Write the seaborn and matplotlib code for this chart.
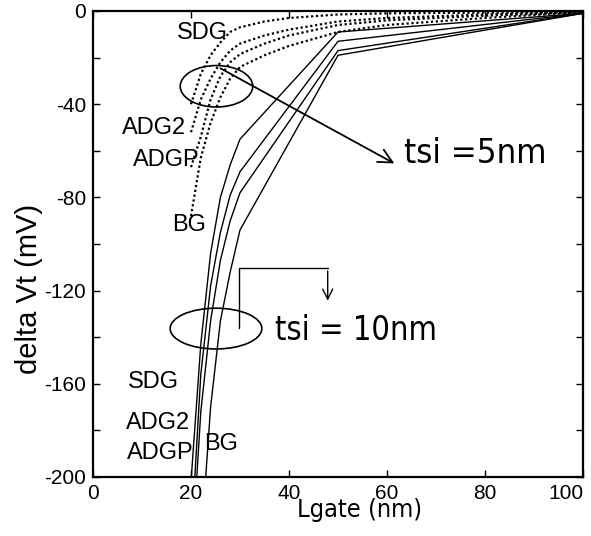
import pandas as pd
import seaborn as sns
import matplotlib.pyplot as plt
from matplotlib import font_manager
from matplotlib.patches import Ellipse

# tsi = 5nm (dotted)
lgate_5 = [20, 22, 24, 26, 28, 30, 35, 40, 50, 60, 80, 100]
sdg_5 = [-40, -27, -19, -13.5, -9, -7, -4.5, -3, -1.5, -1, -0.7, -0.5]
adg2_5 = [-52, -38, -29, -22, -17, -14, -10.5, -8, -4.5, -3, -1.5, -0.5]
adgp_5 = [-67, -54, -38, -28, -22, -18.5, -14, -10.5, -6, -4, -2, -0.5]
bg_5 = [-88, -63, -48, -37, -29, -24, -19, -15, -9, -6, -3, -0.5]

# tsi = 10nm (solid)
lgate_10 = [20, 22, 24, 26, 28, 30, 50, 100]
sdg_10 = [-202, -143, -104, -80, -66, -55, -9, -1]
adg2_10 = [-228, -156, -118, -95, -79, -69, -13, -1]
adgp_10 = [-240, -172, -133, -107, -90, -78, -17, -1]
bg_10 = [-300, -230, -170, -133, -112, -94, -19, -1]

xticks = [0, 20, 40, 60, 80, 100]
yticks = [0, -40, -80, -120, -160, -200]

sns.set_style('ticks')
plt.rcParams['font.family'] = ['Liberation Sans', 'DejaVu Sans']
plt.rcParams['axes.unicode_minus'] = False
for k in ['text.color', 'axes.labelcolor', 'xtick.color', 'ytick.color', 'axes.edgecolor']:
    plt.rcParams[k] = 'black'

# a narrow face if one is installed, else the regular one
narrow = font_manager.FontProperties(family='Liberation Sans')
for f in font_manager.fontManager.ttflist:
    if ('Narrow' in f.name or 'Condensed' in f.name or f.stretch == 'condensed') \
            and f.style == 'normal' and f.weight in (400, 'normal', 'regular'):
        narrow = font_manager.FontProperties(fname=f.fname)
        break

fig = plt.figure(figsize=(5.91, 5.36), dpi=100)
ax = fig.add_axes([93 / 591, 1 - 477 / 536, 490 / 591, 466 / 536])

series_5 = {'SDG': sdg_5, 'ADG2': adg2_5, 'ADGP': adgp_5, 'BG': bg_5}
series_10 = {'SDG': sdg_10, 'ADG2': adg2_10, 'ADGP': adgp_10, 'BG': bg_10}

for name, vals in series_5.items():
    df = pd.DataFrame({'Lgate': lgate_5, 'dVt': vals})
    sns.lineplot(data=df, x='Lgate', y='dVt', ax=ax, color='black',
                 linestyle=(0, (1, 1.2)), linewidth=1.6)
for name, vals in series_10.items():
    df = pd.DataFrame({'Lgate': lgate_10, 'dVt': vals})
    sns.lineplot(data=df, x='Lgate', y='dVt', ax=ax, color='black', linewidth=1.0)

ax.set_xlim(0, 100)
ax.set_ylim(-200, 0)
ax.set_xticks(xticks)
ax.set_yticks(yticks)
ax.set_yticks(range(-180, 0, 40), minor=True)
ax.tick_params(which='both', direction='in', top=True, right=True, length=5,
               width=1.0, labelsize=15, pad=5)
ax.get_xticklabels()[-1].set_ha('right')
for s in ax.spines.values():
    s.set_linewidth(1.6)

xl = ax.set_xlabel('Lgate (nm)', fontproperties=narrow, fontsize=20)
ax.xaxis.set_label_coords(0.545, -0.045)
ax.xaxis.label.set_va('top')
ax.set_ylabel('delta Vt (mV)', fontsize=21)
ax.yaxis.set_label_coords(-0.131, 0.403)
ax.yaxis.label.set_va('center')

# labels near curves
lab = dict(fontsize=17, ha='center', va='center')
ax.text(22.4, -9.4, 'SDG', **lab)
ax.text(12.5, -50, 'ADG2', **lab)
ax.text(15.0, -64, 'ADGP', **lab)
ax.text(19.6, -91.8, 'BG', **lab)
ax.text(12.3, -159.4, 'SDG', **lab)
ax.text(13.3, -176.8, 'ADG2', **lab)
ax.text(13.7, -189.5, 'ADGP', **lab)
ax.text(26.1, -185.8, 'BG', **lab)

# tsi = 5nm group
ax.add_patch(Ellipse((25.2, -32.3), 14.8, 17.8, fill=False, lw=1.2, color='black'))
ax.annotate('', xy=(62, -66), xytext=(25.5, -24),
            arrowprops=dict(arrowstyle='->', lw=1.3, color='black', mutation_scale=25))
t5 = ax.text(63.5, -61, 'tsi =5nm', fontproperties=narrow, fontsize=30,
             ha='left', va='center')

# tsi = 10nm group
ax.add_patch(Ellipse((25.1, -136.3), 18.7, 17.5, fill=False, lw=1.2, color='black'))
ax.plot([29.8, 29.8, 47.9], [-136, -110.4, -110.4], color='black', lw=1.0)
ax.annotate('', xy=(47.9, -125.5), xytext=(47.9, -110.4),
            arrowprops=dict(arrowstyle='->', lw=1.0, color='black', mutation_scale=18))
t10 = ax.text(37.2, -137, 'tsi = 10nm', fontproperties=narrow, fontsize=30,
              ha='left', va='center')

# size the wide texts to the widths seen in the original
fig.canvas.draw()
r = fig.canvas.get_renderer()
for t, w in [(t5, 142), (t10, 162), (xl, 125)]:
    cur = t.get_window_extent(r).width
    t.set_fontsize(t.get_fontsize() * w / cur)

fig.savefig('out.png', dpi=100)
